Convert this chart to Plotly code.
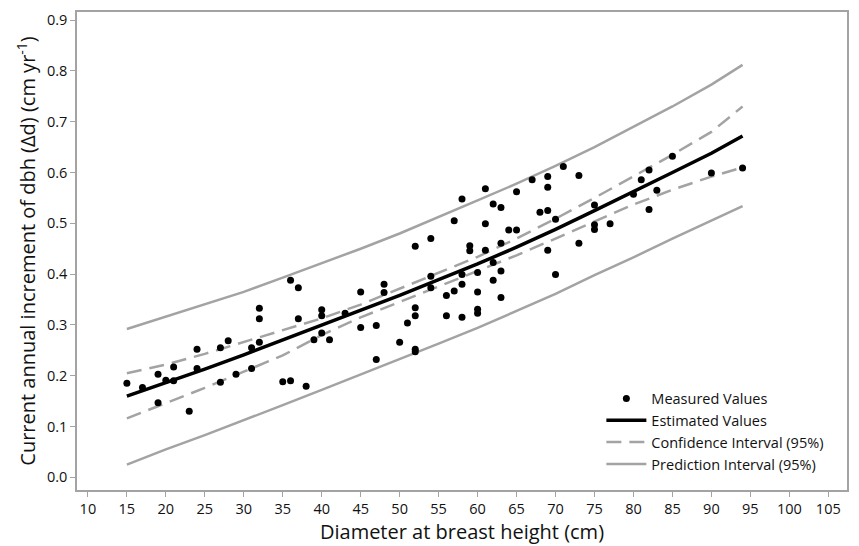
import plotly.graph_objects as go

# Measured values
dbh = [15, 17, 19, 19, 20, 21, 21, 23, 24, 24, 27, 27, 28, 29, 31, 31, 32, 32, 32, 35,
       36, 36, 37, 37, 38, 39, 40, 40, 40, 41, 43, 45, 45, 47, 47, 48, 48, 50, 51, 52,
       52, 52, 52, 52, 54, 54, 54, 56, 56, 57, 57, 58, 58, 58, 58, 59, 59, 60, 60, 60,
       60, 61, 61, 61, 62, 62, 62, 63, 63, 63, 63, 64, 65, 65, 67, 68, 69, 69, 69, 69,
       70, 70, 71, 73, 73, 75, 75, 75, 77, 80, 81, 82, 82, 83, 85, 90, 94]
increment = [0.185, 0.177, 0.203, 0.147, 0.191, 0.217, 0.190, 0.130, 0.252, 0.214,
             0.255, 0.187, 0.269, 0.203, 0.255, 0.214, 0.333, 0.312, 0.266, 0.188,
             0.388, 0.190, 0.373, 0.312, 0.179, 0.271, 0.330, 0.318, 0.284, 0.271,
             0.323, 0.365, 0.295, 0.299, 0.232, 0.380, 0.364, 0.266, 0.304, 0.455,
             0.334, 0.318, 0.252, 0.247, 0.470, 0.396, 0.373, 0.358, 0.318, 0.505,
             0.367, 0.548, 0.399, 0.380, 0.315, 0.456, 0.446, 0.403, 0.365, 0.331,
             0.323, 0.568, 0.499, 0.447, 0.538, 0.423, 0.388, 0.531, 0.461, 0.406,
             0.354, 0.487, 0.562, 0.487, 0.586, 0.522, 0.592, 0.571, 0.525, 0.447,
             0.508, 0.399, 0.612, 0.594, 0.461, 0.536, 0.497, 0.488, 0.499, 0.557,
             0.586, 0.605, 0.527, 0.565, 0.632, 0.599, 0.609]

# Fitted curve and intervals
curve_x = [15, 20, 25, 30, 35, 40, 45, 50, 55, 60, 65, 70, 75, 80, 85, 90, 94]
estimated = [0.160, 0.186, 0.213, 0.241, 0.270, 0.299, 0.328, 0.358, 0.389, 0.420,
             0.453, 0.488, 0.525, 0.562, 0.600, 0.638, 0.672]
ci_upper = [0.205, 0.222, 0.243, 0.266, 0.290, 0.313, 0.340, 0.371, 0.402, 0.434,
            0.470, 0.509, 0.550, 0.592, 0.635, 0.680, 0.730]
ci_lower = [0.116, 0.146, 0.176, 0.208, 0.240, 0.280, 0.315, 0.345, 0.376, 0.406,
            0.437, 0.470, 0.503, 0.537, 0.566, 0.592, 0.610]
pi_upper = [0.292, 0.316, 0.340, 0.365, 0.393, 0.421, 0.450, 0.480, 0.512, 0.545,
            0.578, 0.613, 0.650, 0.690, 0.730, 0.773, 0.812]
pi_lower = [0.025, 0.055, 0.083, 0.112, 0.142, 0.172, 0.202, 0.232, 0.263, 0.294,
            0.327, 0.361, 0.398, 0.433, 0.470, 0.505, 0.534]

x_ticks = list(range(10, 106, 5))
y_ticks = [0.0, 0.1, 0.2, 0.3, 0.4, 0.5, 0.6, 0.7, 0.8, 0.9]

GRAY = "#a3a3a3"
TXT = "#111111"
FONT = "Open Sans"
DASH = "15px,8px"

fig = go.Figure()
fig.add_trace(go.Scatter(x=curve_x, y=pi_upper, mode="lines", name="Prediction Interval (95%)",
                         line=dict(color=GRAY, width=2.5), showlegend=False))
fig.add_trace(go.Scatter(x=curve_x, y=pi_lower, mode="lines", name="Prediction Interval (95%)",
                         line=dict(color=GRAY, width=2.5), showlegend=False))
fig.add_trace(go.Scatter(x=curve_x, y=ci_upper, mode="lines", name="Confidence Interval (95%)",
                         line=dict(color=GRAY, width=2.5, dash=DASH), showlegend=False))
fig.add_trace(go.Scatter(x=curve_x, y=ci_lower, mode="lines", name="Confidence Interval (95%)",
                         line=dict(color=GRAY, width=2.5, dash=DASH), showlegend=False))
fig.add_trace(go.Scatter(x=curve_x, y=estimated, mode="lines", name="Estimated Values",
                         line=dict(color="black", width=3.5), showlegend=False))
fig.add_trace(go.Scatter(x=dbh, y=increment, mode="markers", name="Measured Values",
                         marker=dict(color="black", size=7), showlegend=False))

# legend entries (in reference order)
fig.add_trace(go.Scatter(x=[None], y=[None], mode="markers", name="Measured Values",
                         marker=dict(color="black", size=7)))
fig.add_trace(go.Scatter(x=[None], y=[None], mode="lines", name="Estimated Values",
                         line=dict(color="black", width=3.5)))
fig.add_trace(go.Scatter(x=[None], y=[None], mode="lines", name="Confidence Interval (95%)",
                         line=dict(color=GRAY, width=2.5, dash=DASH)))
fig.add_trace(go.Scatter(x=[None], y=[None], mode="lines", name="Prediction Interval (95%)",
                         line=dict(color=GRAY, width=2.5)))

axis_common = dict(showgrid=False, zeroline=False, showline=True, linecolor=GRAY, linewidth=1.5,
                   mirror=True, ticks="outside", ticklen=5, tickcolor=GRAY, tickwidth=1,
                   tickfont=dict(family=FONT, size=14.5, color=TXT))

fig.update_layout(
    width=859, height=546,
    margin=dict(l=77, r=11, t=10, b=53),
    paper_bgcolor="white", plot_bgcolor="white",
    font=dict(family=FONT, color=TXT),
    xaxis=dict(range=[8.6, 107.4], tickvals=x_ticks,
               title=dict(text="Diameter at breast height (cm)", font=dict(family=FONT, size=20, color=TXT),
                          standoff=4),
               **axis_common),
    yaxis=dict(range=[-0.025, 0.916], tickvals=y_ticks, tickformat=".1f",
               title=dict(text="Current annual increment of dbh (Δd) (cm yr<sup>-1</sup>)",
                          font=dict(family=FONT, size=20, color=TXT), standoff=6),
               **axis_common),
    legend=dict(x=0.681, y=0.225, xanchor="left", yanchor="top", bgcolor="rgba(0,0,0,0)",
                font=dict(family=FONT, size=14.5, color=TXT), tracegroupgap=0, itemwidth=40),
    showlegend=True,
)

fig.write_html("out.html")
